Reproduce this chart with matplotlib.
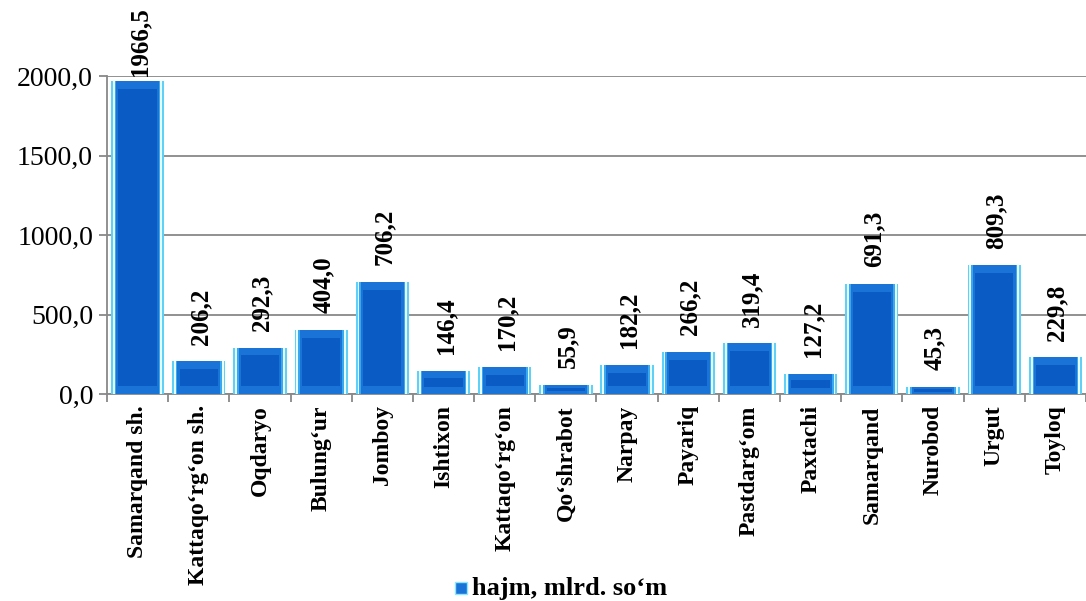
import matplotlib.pyplot as plt
import numpy as np

# Data
districts = ["Samarqand sh.", "Kattaqo‘rg‘on sh.", "Oqdaryo", "Bulung‘ur", "Jomboy",
             "Ishtixon", "Kattaqo‘rg‘on", "Qo‘shrabot", "Narpay", "Payariq",
             "Pastdarg‘om", "Paxtachi", "Samarqand", "Nurobod", "Urgut", "Toyloq"]
values = [1966.5, 206.2, 292.3, 404.0, 706.2, 146.4, 170.2, 55.9, 182.2, 266.2,
          319.4, 127.2, 691.3, 45.3, 809.3, 229.8]
yticks = [0, 500, 1000, 1500, 2000]

plt.rcParams['font.family'] = ['Liberation Serif', 'DejaVu Serif']

fig = plt.figure(figsize=(10.86, 6.01), dpi=100)
ax = fig.add_axes([0.0985, 0.3444, 0.9015, 0.5291])

x = np.arange(len(values))
w = 0.87
vals = np.array(values)
depth = np.minimum(50, vals * 0.3)

# bevelled look built from nested bars
ax.bar(x, vals, width=w, color="#5FD0F8", linewidth=0, zorder=3)
ax.bar(x, vals, width=w * 0.93, color="#E6FFFF", linewidth=0, zorder=3.1)
ax.bar(x, vals, width=w * 0.86, color="#3AA8EE", linewidth=0, zorder=3.2)
ax.bar(x, vals, width=w * 0.80, color="#1A74D8", linewidth=0, zorder=3.3)
ax.bar(x, vals - 2 * depth, bottom=depth, width=w * 0.72, color="#0A5CC4",
       linewidth=0, zorder=3.4)

for i, (xi, v) in enumerate(zip(x, values)):
    off = 4 if i == 0 else 12
    ax.annotate(f"{v:.1f}".replace(".", ","), (xi + 0.03, v), xytext=(0, off),
                textcoords="offset points", rotation=90, ha="center", va="bottom",
                fontsize=18, fontweight="bold", annotation_clip=False, zorder=6)

ax.set_ylim(0, 2000)
ax.set_xlim(-0.5, 15.24)
ax.set_yticks(yticks)
ax.set_yticklabels([f"{t:.1f}".replace(".", ",") for t in yticks], fontsize=20)
ax.yaxis.grid(True, color="#888888", linewidth=1.3, zorder=0)
ax.set_axisbelow(True)

# ticks between categories, labels at centres
ax.set_xticks(np.arange(-0.5, 16, 1))
ax.set_xticklabels([])
ax.set_xticks(x, minor=True)
ax.set_xticklabels(districts, minor=True, rotation=90, fontsize=17, fontweight="bold")
ax.tick_params(axis="x", which="minor", length=0, pad=8)
ax.tick_params(axis="x", which="major", length=6, color="#888888", width=1.3)
ax.tick_params(axis="y", length=6, color="#888888", width=1.3, pad=4)

for s in ["top", "right"]:
    ax.spines[s].set_visible(False)
for s in ["left", "bottom"]:
    ax.spines[s].set_color("#888888")
    ax.spines[s].set_linewidth(1.3)

# legend
fig.patches.append(plt.Rectangle((0.419, 0.0115), 0.011, 0.02, transform=fig.transFigure,
                                 facecolor="#1A74D8", edgecolor="#8EE6FF", linewidth=1))
fig.text(0.435, 0.02, "hajm, mlrd. so‘m", fontsize=19, fontweight="bold",
         ha="left", va="center")

fig.savefig("out.png", dpi=100)
